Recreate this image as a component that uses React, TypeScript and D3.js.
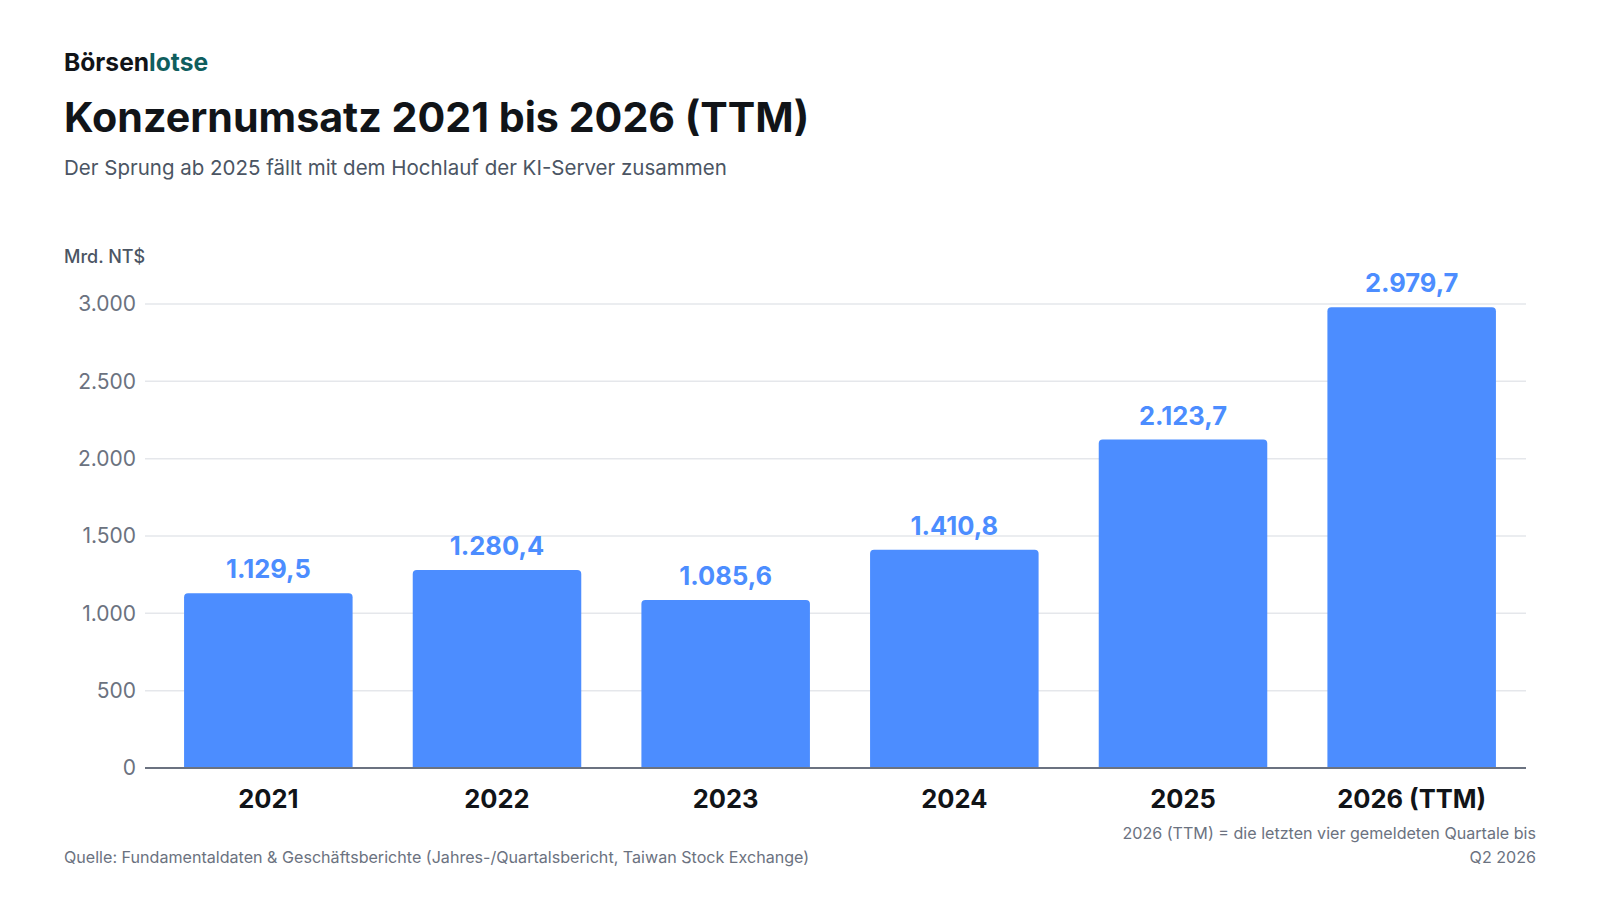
import React, { useEffect } from "react";
import * as d3 from "d3";

const categories = ["2021", "2022", "2023", "2024", "2025", "2026 (TTM)"];
const revenue = [1129.5, 1280.4, 1085.6, 1410.8, 2123.7, 2979.7];
const yTicks = [0, 500, 1000, 1500, 2000, 2500, 3000];

const W = 1600;
const H = 900;
const FONT = "Inter, 'Noto Sans', sans-serif";

const fmtTick = (v: number) => d3.format(",")(v).replace(/,/g, ".");
const fmtVal = (v: number) =>
  d3.format(",.1f")(v).replace(/,/g, "#").replace(/\./g, ",").replace(/#/g, ".");

function roundedTop(x: number, y: number, w: number, h: number, r: number) {
  const rr = Math.min(r, h, w / 2);
  const p = d3.path();
  p.moveTo(x, y + h);
  p.lineTo(x, y + rr);
  p.quadraticCurveTo(x, y, x + rr, y);
  p.lineTo(x + w - rr, y);
  p.quadraticCurveTo(x + w, y, x + w, y + rr);
  p.lineTo(x + w, y + h);
  p.closePath();
  return p.toString();
}

export default function App() {
  useEffect(() => {
    document.body.style.margin = "0";
  }, []);

  const x = d3
    .scaleBand<string>()
    .domain(categories)
    .range([154, 1526])
    .paddingInner(0.263)
    .paddingOuter(0.1315);
  const y = d3.scaleLinear().domain([0, 3000]).range([768, 304]);
  const gridX0 = 145;
  const gridX1 = 1526;

  return (
    <svg width={W} height={H} style={{ display: "block", background: "#fff" }} fontFamily={FONT}>
      <rect width={W} height={H} fill="#ffffff" />
      <text x={64} y={71} fontSize={24.6} fontWeight={700} fill="#111418">
        Börsen<tspan fill="#0f5e5e">lotse</tspan>
      </text>
      <text x={64} y={132} fontSize={41.2} fontWeight={700} fill="#111418">
        Konzernumsatz 2021 bis 2026 (TTM)
      </text>
      <text x={64} y={175} fontSize={20.5} fill="#4b5563">
        Der Sprung ab 2025 fällt mit dem Hochlauf der KI-Server zusammen
      </text>
      <text x={64} y={263} fontSize={18} fontWeight={500} fill="#4b5563">
        Mrd. NT$
      </text>

      {yTicks.map((t) => (
        <g key={t}>
          {t !== 0 && (
            <line x1={gridX0} x2={gridX1} y1={y(t)} y2={y(t)} stroke="#e5e7eb" strokeWidth={1.5} />
          )}
          <text x={136} y={y(t)} dy="0.35em" textAnchor="end" fontSize={21} fill="#6b7280">
            {fmtTick(t)}
          </text>
        </g>
      ))}

      {categories.map((c, i) => {
        const v = revenue[i];
        const bx = x(c)!;
        const bw = x.bandwidth();
        const by = y(v);
        return (
          <g key={c}>
            <path d={roundedTop(bx, by, bw, y(0) - by, 4)} fill="#4c8dff" />
            <text
              x={bx + bw / 2}
              y={by - 15}
              textAnchor="middle"
              fontSize={25.5}
              fontWeight={700}
              fill="#4c8dff"
            >
              {fmtVal(v)}
            </text>
            <text
              x={bx + bw / 2}
              y={808}
              textAnchor="middle"
              fontSize={25.5}
              fontWeight={700}
              fill="#111418"
            >
              {c}
            </text>
          </g>
        );
      })}

      <line x1={gridX0} x2={gridX1} y1={y(0)} y2={y(0)} stroke="#6b7280" strokeWidth={2} />

      <text x={1536} y={839} textAnchor="end" fontSize={16.1} fill="#6b7280">
        2026 (TTM) = die letzten vier gemeldeten Quartale bis
      </text>
      <text x={1536} y={863} textAnchor="end" fontSize={16.1} fill="#6b7280">
        Q2 2026
      </text>
      <text x={64} y={863} fontSize={16.1} fill="#6b7280">
        Quelle: Fundamentaldaten &amp; Geschäftsberichte (Jahres-/Quartalsbericht, Taiwan Stock Exchange)
      </text>
    </svg>
  );
}
